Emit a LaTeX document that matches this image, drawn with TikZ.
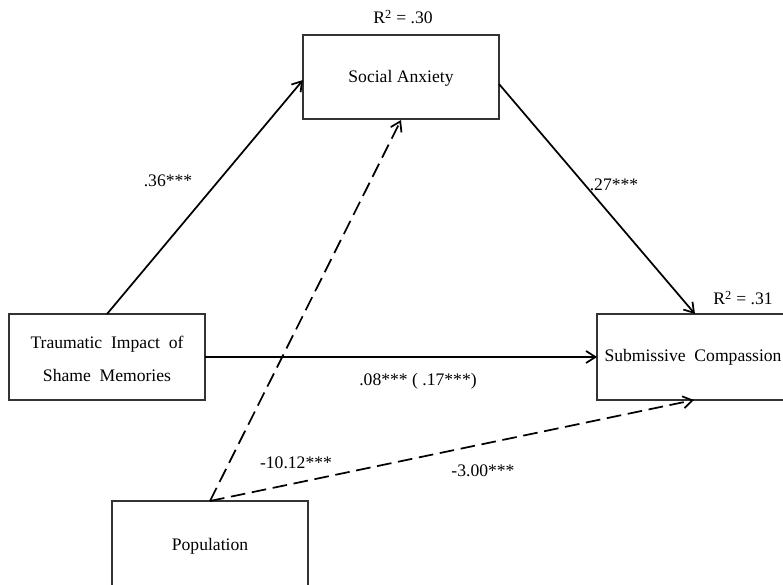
\documentclass[tikz,border=0pt]{standalone}
\usepackage{fontspec}
\setmainfont{Liberation Serif}
\usetikzlibrary{arrows.meta}
\begin{document}
\begin{tikzpicture}[x=0.75pt,y=-0.75pt,
  box/.style={draw=black!80,line width=0.9pt},
  lbl/.style={font=\fontsize{13.2}{15.5}\selectfont},
  arr/.style={->,line width=1.3pt,>={Straight Barb[length=7pt,width=9pt]}},
  darr/.style={arr,dash pattern=on 11pt off 5pt}]
\useasboundingbox (0,0) rectangle (783,585);
\clip (0,0) rectangle (783,585);
% boxes
\draw[box] (303,35) rectangle (499,119);
\node[lbl] (sa) at (401,78) {Social Anxiety};
\coordinate (saL) at (303,80);
\coordinate (saR) at (499,84);
\coordinate (saB) at (401,120);
\draw[box] (9,314) rectangle (205,400);
\node[lbl,align=center] (ti) at (107,359) {Traumatic\ \ Impact\ \ of\\[9pt]Shame\ \ Memories};
\coordinate (tiT) at (107,314);
\coordinate (tiR) at (205,357);
\draw[box] (597,314) rectangle (790,400);
\node[lbl] (sc) at (693,357) {Submissive\ \ Compassion};
\coordinate (scT) at (695,314);
\coordinate (scL) at (597,357);
\coordinate (scB) at (694,400);
\draw[box] (112,501) rectangle (308,600);
\node[lbl] (po) at (210,546) {Population};
\coordinate (poT) at (210,501);
% arrows
\draw[arr] (tiT) -- (saL);
\draw[arr] (saR) -- (scT);
\draw[arr] (tiR) -- (scL);
\draw[darr] (poT) -- (saB);
\draw[darr] (poT) -- (scB);
% labels
\node[lbl] (r1) at (403,17) {R\textsuperscript{2} = .30};
\node[lbl] (r2) at (743,298) {R\textsuperscript{2} = .31};
\node[lbl] (l1) at (168,181) {.36***};
\node[lbl] (l2) at (614,185) {.27***};
\node[lbl] (l3) at (418,381) {.08*** ( .17***)};
\node[lbl] (l4) at (296,463) {-10.12***};
\node[lbl] (l5) at (483,471) {-3.00***};
\end{tikzpicture}
\end{document}
